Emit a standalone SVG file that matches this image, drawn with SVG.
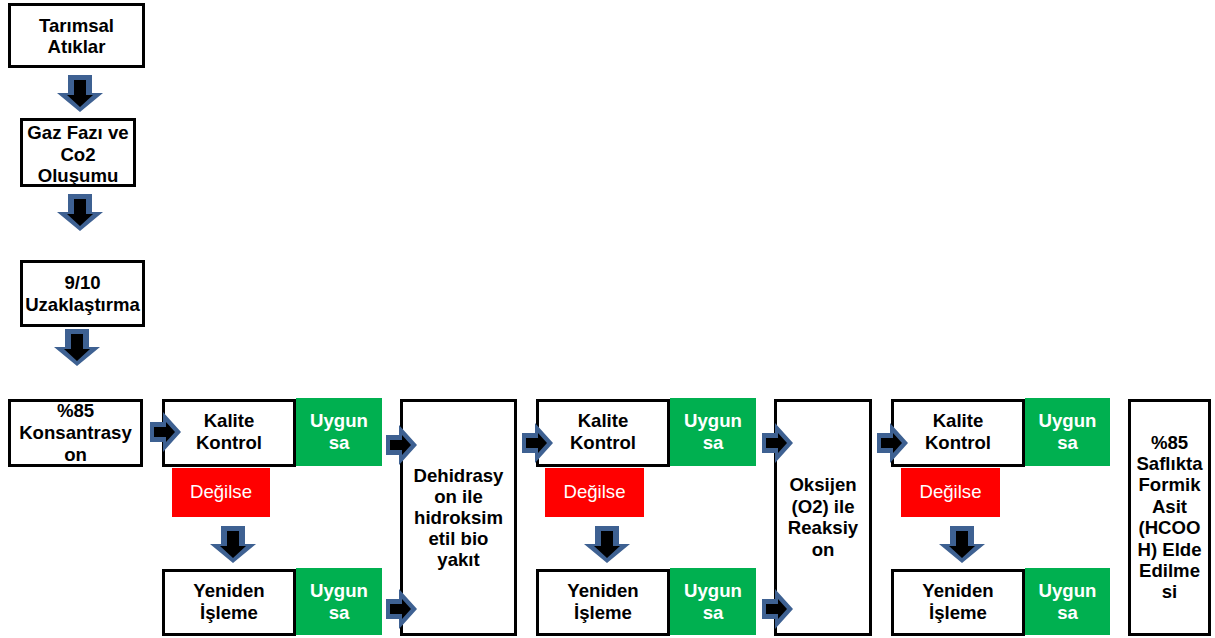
<svg xmlns="http://www.w3.org/2000/svg" xmlns:xlink="http://www.w3.org/1999/xlink" width="1215" height="638" viewBox="0 0 1215 638">
<style>
.box{fill:#fff;stroke:#000;stroke-width:3}
.ok{fill:#00B050}
.no{fill:#FF0000}
.t{font-family:"Liberation Sans",Arial,sans-serif;font-size:18.6px;font-weight:bold;text-anchor:middle;fill:#000}
.tw{font-family:"Liberation Sans",Arial,sans-serif;font-size:18.6px;font-weight:bold;text-anchor:middle;fill:#fff}
.tn{font-family:"Liberation Sans",Arial,sans-serif;font-size:18.6px;text-anchor:middle;fill:#fff}
</style>
<defs>
<g id="down">
<polygon points="-12,0 12,0 12,18 23,18 0,37 -23,18 -12,18" fill="#3E6192"/>
<polygon points="-6,5 6,5 6,20 13,20 0,32 -13,20 -6,20" fill="#000"/>
</g>
<g id="right">
<polygon points="0,-10 13,-10 13,-20 31,0 13,20 13,10 0,10" fill="#3E6192"/>
<polygon points="4,-5 16,-5 16,-10 25,0 16,10 16,5 4,5" fill="#000"/>
</g>
</defs>

<g id="n1"><rect class="box" x="9.5" y="4.5" width="134" height="62"/>
<text class="t" x="76.5" y="32">Tarımsal</text><text class="t" x="76.5" y="53">Atıklar</text></g>

<g id="n2"><rect class="box" x="21.5" y="119.5" width="113" height="66"/>
<text class="t" x="78" y="139">Gaz Fazı ve</text><text class="t" x="78" y="160.5">Co2</text><text class="t" x="78" y="182">Oluşumu</text></g>

<g id="n3"><rect class="box" x="21.5" y="261.5" width="122" height="64"/>
<text class="t" x="82.5" y="289">9/10</text><text class="t" x="82.5" y="311">Uzaklaştırma</text></g>

<g id="n4"><rect class="box" x="9.5" y="400.5" width="132" height="65"/>
<text class="t" x="75.5" y="417">%85</text><text class="t" x="75.5" y="439">Konsantrasy</text><text class="t" x="75.5" y="461">on</text></g>

<g id="k1"><rect class="box" x="163.5" y="400.5" width="131" height="65"/>
<text class="t" x="229" y="427">Kalite</text><text class="t" x="229" y="449">Kontrol</text></g>
<g id="g1"><rect class="ok" x="296" y="398" width="86" height="68"/>
<text class="tw" x="339" y="427">Uygun</text><text class="tw" x="339" y="449">sa</text></g>
<g id="r1"><rect class="no" x="172" y="468" width="98" height="49"/>
<text class="tn" x="221" y="498">Değilse</text></g>
<g id="y1"><rect class="box" x="163.5" y="570.5" width="131" height="64"/>
<text class="t" x="229" y="597">Yeniden</text><text class="t" x="229" y="619">İşleme</text></g>
<g id="g1b"><rect class="ok" x="296" y="568" width="86" height="67"/>
<text class="tw" x="339" y="597">Uygun</text><text class="tw" x="339" y="619">sa</text></g>

<g id="dh"><rect class="box" x="401.5" y="400.5" width="114" height="234"/>
<text class="t" x="458.5" y="482">Dehidrasy</text><text class="t" x="458.5" y="503">on ile</text><text class="t" x="458.5" y="524">hidroksim</text><text class="t" x="458.5" y="545">etil bio</text><text class="t" x="458.5" y="566">yakıt</text></g>

<g id="k2"><rect class="box" x="537.5" y="400.5" width="131" height="65"/>
<text class="t" x="603" y="427">Kalite</text><text class="t" x="603" y="449">Kontrol</text></g>
<g id="g2"><rect class="ok" x="670" y="398" width="86" height="68"/>
<text class="tw" x="713" y="427">Uygun</text><text class="tw" x="713" y="449">sa</text></g>
<g id="r2"><rect class="no" x="545" y="468" width="99" height="49"/>
<text class="tn" x="594.5" y="498">Değilse</text></g>
<g id="y2"><rect class="box" x="537.5" y="570.5" width="131" height="64"/>
<text class="t" x="603" y="597">Yeniden</text><text class="t" x="603" y="619">İşleme</text></g>
<g id="g2b"><rect class="ok" x="670" y="568" width="86" height="67"/>
<text class="tw" x="713" y="597">Uygun</text><text class="tw" x="713" y="619">sa</text></g>

<g id="ox"><rect class="box" x="775.5" y="400.5" width="95" height="234"/>
<text class="t" x="823" y="491">Oksijen</text><text class="t" x="823" y="513">(O2) ile</text><text class="t" x="823" y="534">Reaksiy</text><text class="t" x="823" y="556">on</text></g>

<g id="k3"><rect class="box" x="892.5" y="400.5" width="131" height="65"/>
<text class="t" x="958" y="427">Kalite</text><text class="t" x="958" y="449">Kontrol</text></g>
<g id="g3"><rect class="ok" x="1025" y="398" width="85" height="68"/>
<text class="tw" x="1067.5" y="427">Uygun</text><text class="tw" x="1067.5" y="449">sa</text></g>
<g id="r3"><rect class="no" x="901" y="468" width="99" height="49"/>
<text class="tn" x="950.5" y="498">Değilse</text></g>
<g id="y3"><rect class="box" x="892.5" y="570.5" width="131" height="64"/>
<text class="t" x="958" y="597">Yeniden</text><text class="t" x="958" y="619">İşleme</text></g>
<g id="g3b"><rect class="ok" x="1025" y="568" width="85" height="67"/>
<text class="tw" x="1067.5" y="597">Uygun</text><text class="tw" x="1067.5" y="619">sa</text></g>

<g id="fin"><rect class="box" x="1129.5" y="400.5" width="80" height="234"/>
<text class="t" x="1169.5" y="449">%85</text><text class="t" x="1169.5" y="470">Saflıkta</text><text class="t" x="1169.5" y="491">Formik</text><text class="t" x="1169.5" y="513">Asit</text><text class="t" x="1169.5" y="534">(HCOO</text><text class="t" x="1169.5" y="556">H) Elde</text><text class="t" x="1169.5" y="577">Edilme</text><text class="t" x="1169.5" y="598">si</text></g>

<g id="connectors">
<use xlink:href="#down" x="80" y="75"/>
<use xlink:href="#down" x="80" y="194"/>
<use xlink:href="#down" x="77" y="329"/>
<use xlink:href="#down" x="233" y="526"/>
<use xlink:href="#down" x="607" y="526"/>
<use xlink:href="#down" x="962" y="526"/>
<use xlink:href="#right" x="150" y="432"/>
<use xlink:href="#right" x="386" y="445"/>
<use xlink:href="#right" x="386" y="609"/>
<use xlink:href="#right" x="522" y="443"/>
<use xlink:href="#right" x="762" y="443"/>
<use xlink:href="#right" x="762" y="609"/>
<use xlink:href="#right" x="877" y="443"/>
</g>
</svg>
